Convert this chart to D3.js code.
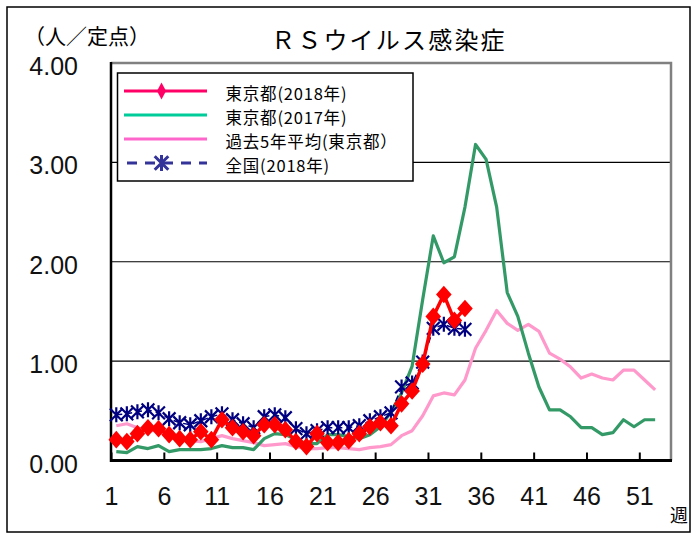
<!DOCTYPE html>
<html><head><meta charset="utf-8">
<script src="https://cdn.jsdelivr.net/npm/d3@7"></script>
<style>body{margin:0;background:#fff}</style>
</head><body><svg id="c" width="697" height="539"></svg>
<script>
// ---- data ----
const weeks = d3.range(1, 53);
const tokyo2018 = [0.21,0.19,0.27,0.33,0.32,0.26,0.22,0.21,0.29,0.21,
  0.41,0.33,0.29,0.25,0.36,0.36,0.31,0.19,0.14,0.27,
  0.18,0.18,0.20,0.27,0.34,0.38,0.35,0.57,0.70,0.97,
  1.45,1.67,1.41,1.53];
const tokyo2017 = [0.09,0.08,0.14,0.12,0.15,0.09,0.11,0.11,0.11,0.12,
  0.15,0.13,0.13,0.11,0.22,0.27,0.26,0.21,0.17,0.17,
  0.26,0.26,0.24,0.22,0.26,0.34,0.49,0.68,0.95,1.62,
  2.26,1.99,2.05,2.55,3.18,3.03,2.55,1.69,1.45,1.08,
  0.74,0.51,0.51,0.44,0.33,0.33,0.26,0.28,0.41,0.34,
  0.41,0.41];
const avg5 = [0.35,0.37,0.33,0.30,0.30,0.27,0.22,0.20,0.19,0.22,
  0.25,0.22,0.20,0.18,0.15,0.16,0.17,0.14,0.12,0.12,
  0.13,0.13,0.12,0.11,0.13,0.14,0.16,0.25,0.30,0.45,
  0.65,0.68,0.66,0.81,1.13,1.31,1.51,1.38,1.31,1.37,
  1.30,1.08,1.02,0.94,0.83,0.87,0.83,0.81,0.91,0.91,
  0.81,0.71];
const national2018 = [0.46,0.47,0.49,0.51,0.48,0.42,0.38,0.36,0.40,0.44,
  0.47,0.41,0.37,0.33,0.44,0.46,0.43,0.32,0.27,0.30,
  0.33,0.33,0.33,0.35,0.40,0.44,0.48,0.74,0.78,0.99,
  1.33,1.37,1.33,1.32];
const xTickLabels = [1,6,11,16,21,26,31,36,41,46,51];
const yTicks = [0,1,2,3,4];
const seriesNames = ["東京都(2018年)","東京都(2017年)","過去5年平均(東京都）","全国(2018年)"];
const titleText = "ＲＳウイルス感染症";
const yUnit = "（人／定点）";
const xUnit = "週";

// ---- layout ----
const svg = d3.select("#c");
const L = 111, R = 671, T = 63, B = 460.5;
const JP = "'Noto Sans CJK JP', sans-serif";
const NUM = "'Liberation Sans', Arial, sans-serif";

// label scale: position of the left boundary of week w
const xs = d3.scaleLinear().domain([1, 54]).range([L, R]);
const cx = w => xs(w + 0.5);
const y = d3.scaleLinear().domain([0, 4]).range([B, T]);

svg.append("rect").attr("x",7).attr("y",7).attr("width",683).attr("height",525)
  .attr("fill","#fff").attr("stroke","#000").attr("stroke-width",1.5);

// gridlines
svg.append("g").selectAll("line").data([1,2,3]).join("line")
  .attr("x1",L).attr("x2",R).attr("y1",d=>y(d)).attr("y2",d=>y(d))
  .attr("stroke","#000").attr("stroke-width",1.2);
// top & right border
svg.append("path").attr("d",`M${L},${y(4)}H${R}V${B}`).attr("fill","none")
  .attr("stroke","#808080").attr("stroke-width",2.5);

// y axis
const ya = svg.append("g").attr("transform",`translate(${L},0)`)
  .call(d3.axisLeft(y).tickValues(yTicks).tickFormat(d3.format(".2f")).tickSize(0).tickPadding(33));
ya.select(".domain").remove();
ya.selectAll("text").attr("dy","0.46em").style("font-family",NUM).style("font-size","25px").attr("fill","#111");

// x axis
const xa = svg.append("g").attr("transform",`translate(0,${B})`)
  .call(d3.axisBottom(xs).tickValues(xTickLabels).tickFormat(d3.format("d")).tickSizeInner(-8).tickSizeOuter(0));
xa.select(".domain").remove();
xa.selectAll(".tick line").attr("stroke","#000").attr("stroke-width",2);
xa.selectAll("text").attr("y",0).attr("dy","44px").style("font-family",NUM).style("font-size","25px").attr("fill","#111");

svg.append("line").attr("x1",L).attr("x2",L).attr("y1",T-1).attr("y2",B+1.5).attr("stroke","#000").attr("stroke-width",2.5);
svg.append("line").attr("x1",L-1).attr("x2",R+1).attr("y1",B).attr("y2",B).attr("stroke","#000").attr("stroke-width",3);

const line = d3.line().x((d,i)=>cx(weeks[i])).y(d=>y(d));

// series
svg.append("path").attr("d",line(avg5)).attr("fill","none").attr("stroke","#FF99CC").attr("stroke-width",3.2).attr("stroke-linejoin","round");
svg.append("path").attr("d",line(tokyo2017)).attr("fill","none").attr("stroke","#339966").attr("stroke-width",3.2).attr("stroke-linejoin","round");

const ast = s => `M0,${-s}V${s}M${-s*0.85},${-s*0.85}L${s*0.85},${s*0.85}M${-s*0.85},${s*0.85}L${s*0.85},${-s*0.85}`;
svg.append("path").attr("d",line(national2018)).attr("fill","none").attr("stroke","#000080").attr("stroke-width",1.5).attr("stroke-dasharray","6,4");
svg.append("g").selectAll("path").data(national2018).join("path")
  .attr("transform",(d,i)=>`translate(${cx(weeks[i])},${y(d)})`)
  .attr("d",ast(7.5)).attr("fill","none").attr("stroke","#000080").attr("stroke-width",2.2);

svg.append("path").attr("d",line(tokyo2018)).attr("fill","none").attr("stroke","#FF0000").attr("stroke-width",3.5).attr("stroke-linejoin","round");
const dia = (w,h) => `M0,${-h}L${w},0L0,${h}L${-w},0Z`;
svg.append("g").selectAll("path").data(tokyo2018).join("path")
  .attr("transform",(d,i)=>`translate(${cx(weeks[i])},${y(d)})`)
  .attr("d",dia(7.8,8.8)).attr("fill","#FF0000");

// legend
const lg = svg.append("g");
lg.append("rect").attr("x",117.5).attr("y",73).attr("width",295.5).attr("height",108)
  .attr("fill","#fff").attr("stroke","#000").attr("stroke-width",1.5);
const rows = [91,115,139,163];
const lcol = ["#FF0066","#00CC99","#FF66CC","#333399"];
rows.forEach((ry,i)=>{
  const ln = lg.append("line").attr("x1",124).attr("x2",207).attr("y1",ry).attr("y2",ry)
    .attr("stroke",lcol[i]).attr("stroke-width",3.2);
  if(i===3) ln.attr("stroke-dasharray","10,8").attr("stroke-dashoffset",-3);
  lg.append("text").attr("x",225.5).attr("y",ry+9.3).text(seriesNames[i])
    .style("font-family",JP).style("font-size","16.5px").style("letter-spacing","0.8px").attr("fill","#000");
});
lg.append("path").attr("transform",`translate(161.5,${rows[0]})`).attr("d",dia(4.5,8.5)).attr("fill","#FF0066");
lg.append("path").attr("transform",`translate(161.5,${rows[3]})`).attr("d",ast(8)).attr("fill","none").attr("stroke","#333399").attr("stroke-width",3);

// titles
svg.append("text").attr("x",271).attr("y",49).text(titleText)
  .style("font-family",JP).style("font-size","24px").style("letter-spacing","2.2px").attr("fill","#000");
svg.append("text").attr("x",24).attr("y",44).text(yUnit)
  .style("font-family",JP).style("font-size","21px").attr("fill","#000");
svg.append("text").attr("x",670).attr("y",522).text(xUnit)
  .style("font-family",JP).style("font-size","18px").attr("fill","#000");
</script></body></html>
